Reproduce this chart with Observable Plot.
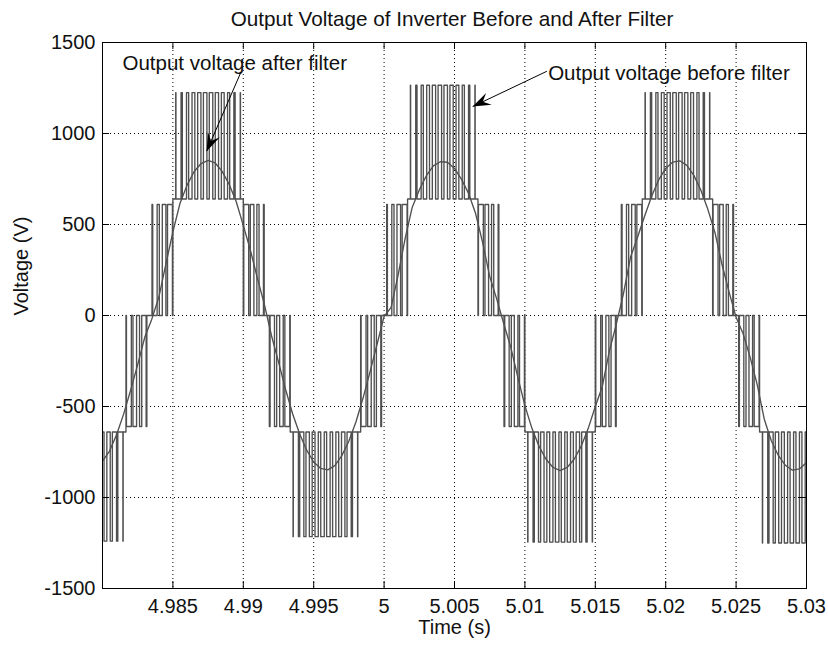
<!DOCTYPE html>
<html>
<head>
<meta charset="utf-8">
<script src="https://cdn.jsdelivr.net/npm/d3@7"></script>
<script src="https://cdn.jsdelivr.net/npm/@observablehq/plot@0.6"></script>
<style>
  html, body { margin: 0; padding: 0; background: #fff; }
  body { width: 828px; height: 647px; overflow: hidden; font-family: "Liberation Sans", Arial, Helvetica, sans-serif; }
  #title { height: 30px; box-sizing: border-box; padding-top: 4px; padding-left: 76px; line-height: 30px;
           text-align: center; font-size: 20.7px; color: #111; white-space: nowrap; overflow: visible; }
  #chart svg { display: block; }
</style>
</head>
<body>
<div id="title"></div>
<div id="chart"></div>
<script>
// ---------------- texts ----------------
const chartTitle = "Output Voltage of Inverter Before and After Filter";
const xLabel = "Time (s)";
const yLabel = "Voltage (V)";

// ---------------- axes ----------------
const xDomain = [4.98, 5.03];
const yDomain = [-1500, 1500];
const xTickValues = [4.985, 4.99, 4.995, 5, 5.005, 5.01, 5.015, 5.02, 5.025, 5.03];
const xTickLabels = ["4.985", "4.99", "4.995", "5", "5.005", "5.01", "5.015", "5.02", "5.025", "5.03"];
const yTickValues = [-1500, -1000, -500, 0, 500, 1000, 1500];
const yTickLabels = ["-1500", "-1000", "-500", "0", "500", "1000", "1500"];

// ---------------- inverter output before filter (multilevel PWM) ----------------
// half cycles of the 60 Hz output: start time, polarity, top level reached by the pulses
const halfStart = [4.975, 4.983333, 4.991667, 5.0, 5.008333, 5.016667, 5.025];
const halfSign  = [-1, 1, -1, 1, -1, 1, -1];
const halfPeak  = [1240, 1225, 1215, 1265, 1245, 1225, 1250];
// bands inside a half cycle: offset from half-cycle start, tier (1: 0 <-> E, 2: E <-> 2E)
const bandOffset = [0, 0.00166667, 0.00666667];
const bandTier   = [1, 2, 1];
const lowerLevel = 610;   // E level reached by the pulses of the inner band
const upperBase  = 640;   // E level under the pulses of the outer band
// pulses of one half cycle: centre offset (s), width (s), tier
const pulseCenter = [0.00020833, 0.000625, 0.00104167, 0.00145833, 0.001875,
                     0.00229167, 0.00270833, 0.003125, 0.00354167, 0.00395833,
                     0.004375, 0.00479167, 0.00520833, 0.005625, 0.00604167,
                     0.00645833, 0.006875, 0.00729167, 0.00770833, 0.008125];
const pulseWidth  = [0.0000523, 0.0001556, 0.0002551, 0.0003483, 0.0000163,
                     0.0000903, 0.0001518, 0.0001993, 0.0002316, 0.000248,
                     0.000248, 0.0002316, 0.0001993, 0.0001518, 0.0000903,
                     0.0000163, 0.0003483, 0.0002551, 0.0001556, 0.0000523];
const pulseTier   = [1, 1, 1, 1, 2, 2, 2, 2, 2, 2, 2, 2, 2, 2, 2, 2, 1, 1, 1, 1];

// ---------------- output after filter ----------------
const filteredTime = [
  4.98, 4.9805, 4.981, 4.9815, 4.982, 4.9825, 4.983, 4.9835, 4.984, 4.9845,
  4.985, 4.9855, 4.986, 4.9865, 4.987, 4.9875, 4.988, 4.9885, 4.989, 4.9895,
  4.99, 4.9905, 4.991, 4.9915, 4.992, 4.9925, 4.993, 4.9935, 4.994, 4.9945,
  4.995, 4.9955, 4.996, 4.9965, 4.997, 4.9975, 4.998, 4.9985, 4.999, 4.9995,
  5.0, 5.0005, 5.001, 5.0015, 5.002, 5.0025, 5.003, 5.0035, 5.004, 5.0045,
  5.005, 5.0055, 5.006, 5.0065, 5.007, 5.0075, 5.008, 5.0085, 5.009, 5.0095,
  5.01, 5.0105, 5.011, 5.0115, 5.012, 5.0125, 5.013, 5.0135, 5.014, 5.0145,
  5.015, 5.0155, 5.016, 5.0165, 5.017, 5.0175, 5.018, 5.0185, 5.019, 5.0195,
  5.02, 5.0205, 5.021, 5.0215, 5.022, 5.0225, 5.023, 5.0235, 5.024, 5.0245,
  5.025, 5.0255, 5.026, 5.0265, 5.027, 5.0275, 5.028, 5.0285, 5.029, 5.0295,
  5.03];
const filteredVolt = [
  -800, -745, -655, -542, -410, -270, -120, -20, 100, 282,
  460, 615, 715, 790, 835, 852, 838, 792, 720, 625,
  495, 360, 205, 60, -110, -255, -405, -540, -650, -740,
  -805, -840, -848, -825, -770, -690, -585, -455, -310, -158,
  -5, 45, 225, 425, 595, 690, 768, 822, 845, 842,
  808, 748, 670, 560, 400, 215, 90, -45, -175, -340,
  -495, -620, -718, -790, -835, -852, -835, -790, -718, -620,
  -500, -390, -195, -45, 120, 320, 430, 545, 655, 745,
  808, 843, 850, 825, 770, 688, 582, 455, 280, 130,
  -10, -100, -230, -380, -570, -688, -769, -823, -850, -843,
  -808];

// ---------------- annotations ----------------
const annoLabel = ["Output voltage after filter", "Output voltage before filter"];
const annoX = [4.98142, 5.01165];
const annoY = [1387, 1332];
const arrowFromX = [4.98982, 5.01156];
const arrowFromY = [1335, 1342];
const arrowToX = [4.9874, 5.00629];
const arrowToY = [903, 1148];

// ---------------- build series ----------------
const events = [];
halfStart.forEach((h0, h) => {
  const s = halfSign[h];
  bandOffset.forEach((o, b) => events.push({t: h0 + o, v: bandTier[b] === 1 ? 0 : s * upperBase}));
  pulseCenter.forEach((c, j) => {
    const on = h0 + c - pulseWidth[j] / 2;
    const off = on + pulseWidth[j];
    const tier = pulseTier[j];
    events.push({t: on, v: tier === 1 ? s * lowerLevel : s * halfPeak[h]});
    events.push({t: off, v: tier === 1 ? 0 : s * upperBase});
  });
});
events.sort((a, b) => a.t - b.t);
const before = events.filter(e => e.t <= xDomain[0]);
const pwm = [{t: xDomain[0], v: before[before.length - 1].v}];
events.filter(e => e.t > xDomain[0] && e.t < xDomain[1]).forEach(e => pwm.push(e));
pwm.push({t: xDomain[1], v: pwm[pwm.length - 1].v});

const filtered = filteredTime.map((t, i) => ({t, v: filteredVolt[i]}));

// ---------------- plot ----------------
document.getElementById("title").textContent = chartTitle;

const W = 828, H = 617, mL = 102, mR = 22, mT = 12, mB = 59;
const innerW = W - mL - mR, innerH = H - mT - mB;
const tickLen = 7;
const font = '"Liberation Sans", Arial, Helvetica, sans-serif';

const base = {
  width: W, height: H, marginLeft: mL, marginRight: mR, marginTop: mT, marginBottom: mB,
  style: {fontFamily: font, fontSize: "20px", color: "#111", background: "white"},
  x: {domain: xDomain, ticks: xTickValues, tickFormat: d => xTickLabels[xTickValues.indexOf(d)],
      tickSize: 0, tickPadding: 10, label: null},
  y: {domain: yDomain, ticks: yTickValues, tickFormat: d => yTickLabels[yTickValues.indexOf(d)],
      tickSize: 0, tickPadding: 7, label: null}
};

// probe plot to know the pixel direction of each arrow (for the filled heads)
const probe = Plot.plot({...base, marks: []});
const sx = probe.scale("x"), sy = probe.scale("y");
const headLen = 18, headHalf = 6.5;
function headSymbol(i) {
  const dx = sx.apply(arrowToX[i]) - sx.apply(arrowFromX[i]);
  const dy = sy.apply(arrowToY[i]) - sy.apply(arrowFromY[i]);
  const a = Math.atan2(dy, dx), c = Math.cos(a), s = Math.sin(a);
  const pts = [[0, 0], [-headLen, headHalf], [-headLen * 0.62, 0], [-headLen, -headHalf]]
    .map(([px, py]) => [px * c - py * s, px * s + py * c]);
  return {draw(ctx) {
    ctx.moveTo(pts[0][0], pts[0][1]);
    for (let k = 1; k < pts.length; k++) ctx.lineTo(pts[k][0], pts[k][1]);
    ctx.closePath();
  }};
}

const idx = annoLabel.map((_, i) => i);

const chart = Plot.plot({
  ...base,
  marks: [
    // dotted grid
    Plot.ruleX(xTickValues, {x: d => d, stroke: "#000", strokeWidth: 1, strokeDasharray: "1,3"}),
    Plot.ruleY(yTickValues, {y: d => d, stroke: "#000", strokeWidth: 1, strokeDasharray: "1,3"}),
    // before filter
    Plot.line(pwm, {x: "t", y: "v", curve: "step-after", stroke: "#505050", strokeWidth: 1.35, clip: true}),
    // after filter
    Plot.line(filtered, {x: "t", y: "v", stroke: "#505050", strokeWidth: 1.35, clip: true}),
    // box and inward ticks
    Plot.frame({stroke: "#000", strokeWidth: 1}),
    Plot.tickX(xTickValues, {x: d => d, insetTop: innerH - tickLen, stroke: "#000"}),
    Plot.tickX(xTickValues, {x: d => d, insetBottom: innerH - tickLen, stroke: "#000"}),
    Plot.tickY(yTickValues, {y: d => d, insetRight: innerW - tickLen, stroke: "#000"}),
    Plot.tickY(yTickValues, {y: d => d, insetLeft: innerW - tickLen, stroke: "#000"}),
    // axis titles
    Plot.text([xLabel], {text: d => d, frameAnchor: "bottom", dy: 45, fill: "#111"}),
    Plot.text([yLabel], {text: d => d, frameAnchor: "left", dx: -81, rotate: -90, fill: "#111"}),
    // annotations
    Plot.text(idx, {x: i => annoX[i], y: i => annoY[i], text: i => annoLabel[i], textAnchor: "start",
                    fill: "#111", fontSize: 20.5}),
    Plot.link(idx, {x1: i => arrowFromX[i], y1: i => arrowFromY[i], x2: i => arrowToX[i], y2: i => arrowToY[i],
                    stroke: "#000", strokeWidth: 1}),
    ...idx.map(i => Plot.dot([i], {x: k => arrowToX[k], y: k => arrowToY[k], symbol: headSymbol(i), r: 5,
                                    fill: "#000", stroke: "none"}))
  ]
});
document.getElementById("chart").appendChild(chart);
</script>
</body>
</html>
